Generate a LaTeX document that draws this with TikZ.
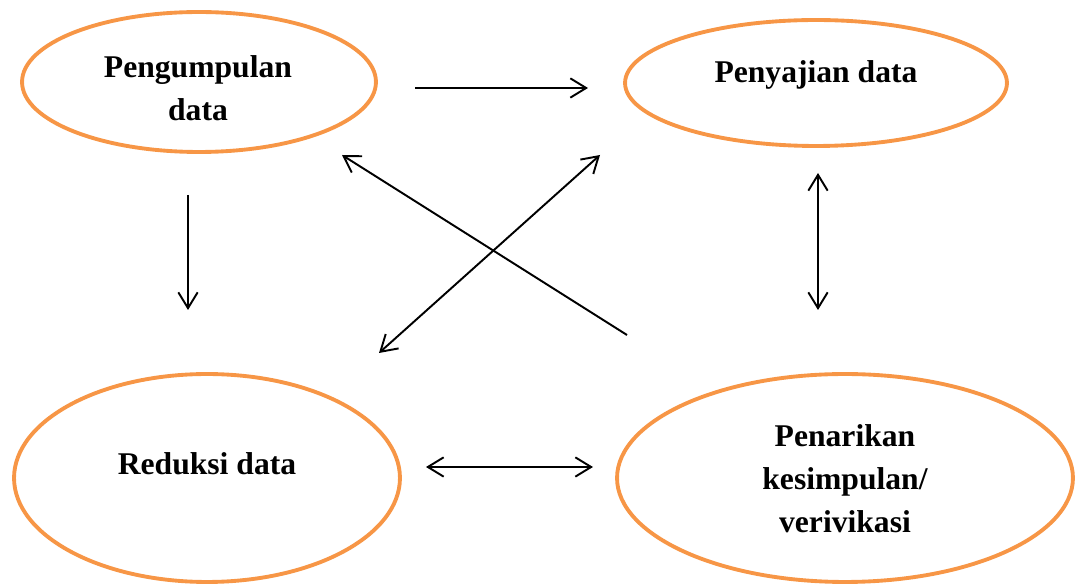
\documentclass[tikz,border=0pt]{standalone}
\usepackage{fontspec}
\setmainfont{Liberation Serif}
\usetikzlibrary{shapes.geometric,arrows.meta}
\definecolor{oranye}{HTML}{F79646}
\begin{document}
\begin{tikzpicture}[x=0.02cm,y=-0.02cm,
  elips/.style={draw=oranye,line width=2.2pt,ellipse,inner sep=0pt},
  teks/.style={font=\bfseries\fontsize{18}{24.5}\selectfont,align=center},
  panah/.style={line width=1.1pt,-{Straight Barb[length=9pt,width=11pt]}},
  panahdua/.style={line width=1.1pt,{Straight Barb[length=9pt,width=11pt]}-{Straight Barb[length=9pt,width=11pt]}}]
\useasboundingbox (0,0) rectangle (1080,587);
\node[elips,minimum width=7.08cm,minimum height=2.8cm] (kumpul) at (199,82) {};
\node[elips,minimum width=7.64cm,minimum height=2.52cm] (saji) at (816,83) {};
\node[elips,minimum width=7.72cm,minimum height=4.16cm] (reduksi) at (207,478) {};
\node[elips,minimum width=9.12cm,minimum height=4.16cm] (tarik) at (845,478) {};
\node[teks] (tkumpul) at (198,88) {Pengumpulan\\data};
\node[teks] (tsaji) at (816,75) {Penyajian data};
\node[teks] (treduksi) at (207,464) {Reduksi data};
\node[teks] (ttarik) at (845,479) {Penarikan\\kesimpulan/\\verivikasi};
\coordinate (a1) at (415,88); \coordinate (a2) at (588,88);
\coordinate (b1) at (188,195); \coordinate (b2) at (188,310);
\coordinate (c1) at (818,173); \coordinate (c2) at (818,310);
\coordinate (d1) at (426,467); \coordinate (d2) at (593,467);
\coordinate (e1) at (627,335); \coordinate (e2) at (342,155);
\coordinate (f1) at (600,155); \coordinate (f2) at (379,353);
\draw[panah] (a1)--(a2);
\draw[panah] (b1)--(b2);
\draw[panah] (e1)--(e2);
\draw[panahdua] (c1)--(c2);
\draw[panahdua] (d1)--(d2);
\draw[panahdua] (f1)--(f2);
\end{tikzpicture}
\end{document}
